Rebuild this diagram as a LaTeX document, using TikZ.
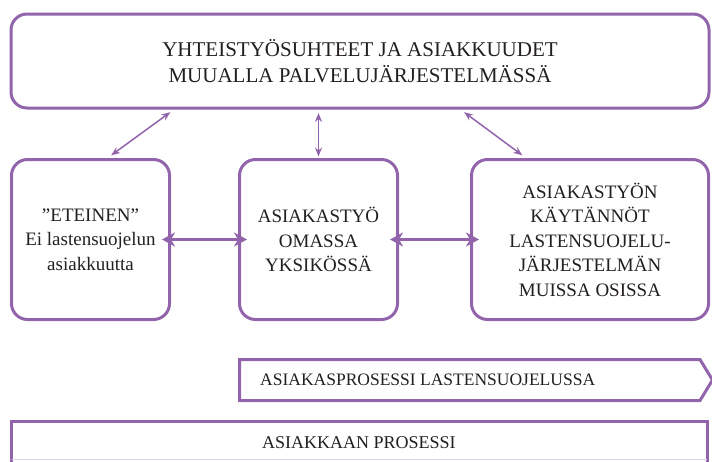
\documentclass[tikz,border=0pt]{standalone}
\usepackage{fontspec}
\setmainfont{Liberation Serif}
\usetikzlibrary{arrows.meta}
\definecolor{lila}{RGB}{145,100,172}
\definecolor{ink}{RGB}{35,31,32}
\tikzset{
  box/.style={draw=lila, line width=3pt, rounded corners=16pt, align=center,
    text=ink, inner sep=0pt, font=\fontsize{19}{24.5}\selectfont},
  thinlink/.style={lila, line width=1.5pt,
    {Stealth[length=9pt,width=7pt]}-{Stealth[length=9pt,width=7pt]}},
  thicklink/.style={lila, line width=3pt, shorten <=-9pt, shorten >=-9pt,
    {Stealth[length=13pt,width=14pt,inset=4pt]}-{Stealth[length=13pt,width=14pt,inset=4pt]}}
}

\begin{document}
\begin{tikzpicture}[x=1pt,y=-1pt]
\useasboundingbox (0,0) rectangle (712,461);
% top box
\node[box, minimum width=698pt, minimum height=94pt,
  font=\fontsize{21}{26}\selectfont] (muualla) at (360,61)
  {YHTEISTYÖSUHTEET JA ASIAKKUUDET\\MUUALLA PALVELUJÄRJESTELMÄSSÄ};
% the three boxes in the middle
\node[box, minimum width=158pt, minimum height=160pt] (eteinen) at (90.5,239.5)
  {”ETEINEN”\\Ei lastensuojelun\\asiakkuutta};
\node[box, minimum width=158pt, minimum height=160pt] (oma) at (318.5,239.5)
  {ASIAKASTYÖ\\OMASSA\\YKSIKÖSSÄ};
\node[box, minimum width=237pt, minimum height=160pt] (muut) at (590,239.5)
  {ASIAKASTYÖN\\KÄYTÄNNÖT\\LASTENSUOJELU-\\JÄRJESTELMÄN\\MUISSA OSISSA};
% links
\draw[thinlink, shorten <=4.5pt, shorten >=4.5pt]
  ([xshift=-186pt]muualla.south) -- ([xshift=17pt]eteinen.north);
\draw[thinlink, shorten <=3.5pt, shorten >=1.5pt]
  ([xshift=-41.5pt]muualla.south) -- (oma.north);
\draw[thinlink, shorten <=4.5pt, shorten >=4.5pt]
  ([xshift=100.5pt]muualla.south) -- ([xshift=-64pt]muut.north);
\draw[thicklink] (eteinen.east) -- (oma.west);
\draw[thicklink] (oma.east) -- (muut.west);
% process arrow
\draw[lila, line width=3pt] (239.5,359.5) -- (700,359.5) -- (712.5,380)
  -- (700,400.5) -- (239.5,400.5) -- cycle;
\node[anchor=west, inner sep=0pt, text=ink, font=\fontsize{17.5}{20}\selectfont]
  (prosessi) at (260,380) {ASIAKASPROSESSI LASTENSUOJELUSSA};
% bottom box, cut by the page
\draw[lila, line width=3pt] (11.5,475) -- (11.5,421.5) -- (707,421.5) -- (707,475);
\draw[lila!30, line width=1pt] (11.5,459) -- (707,459);
\node[inner sep=0pt, text=ink, font=\fontsize{18}{20}\selectfont]
  (asiakas) at (359,443) {ASIAKKAAN PROSESSI};
\end{tikzpicture}
\end{document}
